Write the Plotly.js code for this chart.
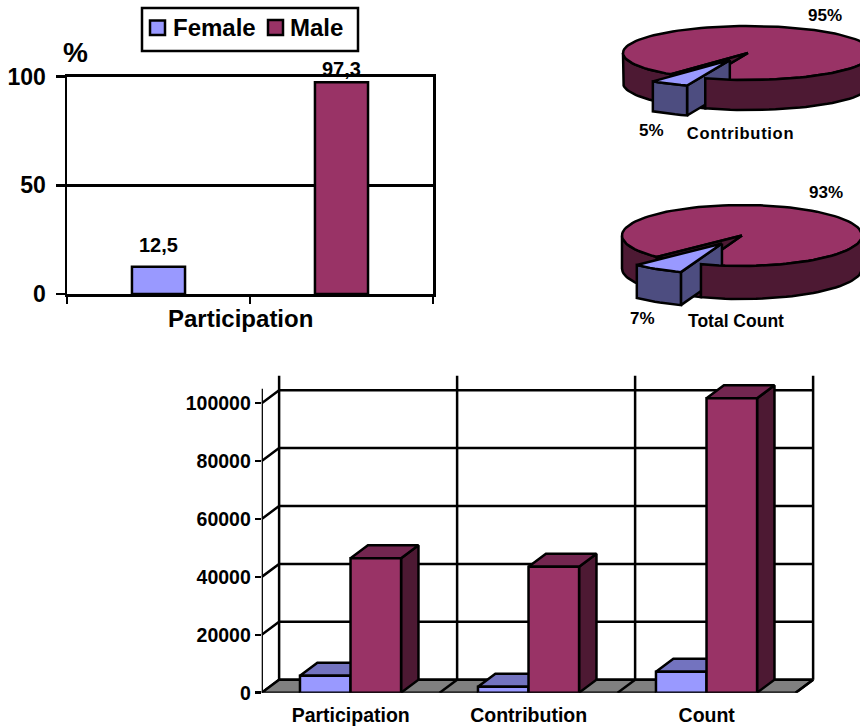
<!DOCTYPE html>
<html>
<head>
<meta charset="utf-8">
<script src="https://cdn.plot.ly/plotly-3.0.1.min.js"></script>
<style>html,body{margin:0;padding:0;background:#fff}#chart{width:860px;height:726px}</style>
</head>
<body>
<div id="chart"></div>
<script>
// Gender breakdown of participation, contribution and record counts
const seriesNames = ['Female', 'Male'];
const participationPct = [12.5, 97.3];
const countCategories = ['Participation', 'Contribution', 'Count'];
const femaleCounts = [5870, 2070, 7250];
const maleCounts = [46420, 43520, 101700];
const contributionShare = [5, 95];
const totalCountShare = [7, 93];
const countTicks = [0, 20000, 40000, 60000, 80000, 100000];
const pctTicks = [0, 50, 100];

const W = 860, H = 726;
const FONT = '"Liberation Sans", Arial, sans-serif';
const INK = '#000000';
const STROKE = 2.5;
const FEMALE = {face: '#9999FF', top: '#7373BF', side: '#4D4D80'};
const MALE = {face: '#993366', top: '#732650', side: '#4D1933'};
const fx = p => p / W;
const fy = p => 1 - p / H;

const traces = [];

function poly(xs, ys, fill, xa, ya) {
  return {type: 'scatter', mode: 'lines', x: xs, y: ys, fill: 'toself', fillcolor: fill,
    line: {color: INK, width: STROKE}, showlegend: false, hoverinfo: 'skip', cliponaxis: false,
    xaxis: xa, yaxis: ya};
}

// Upper chart: percentage participation as two flat bars
const slotPos = [0.5, 1.5];
seriesNames.forEach((name, i) => {
  traces.push({type: 'bar', name, x: [slotPos[i]], y: [participationPct[i]], width: 0.29,
    marker: {color: (i ? MALE : FEMALE).face, line: {color: INK, width: STROKE}},
    showlegend: false, hoverinfo: 'name+y', xaxis: 'x', yaxis: 'y'});
});

// Lower chart: a fake-perspective frame and floor drawn on the value axes
const depthX = 0.0978, depthY = 4490;
const frameMax = 105000;
const gridX = [], gridY = [];
countTicks.forEach(v => {
  gridX.push(0, depthX, 3 + depthX, null);
  gridY.push(v, v + depthY, v + depthY, null);
});
[0, 1, 2, 3].forEach(k => {
  gridX.push(k + depthX, k + depthX, null);
  gridY.push(depthY, frameMax + depthY, null);
});
traces.push({type: 'scatter', mode: 'lines', x: gridX, y: gridY, line: {color: INK, width: STROKE},
  showlegend: false, hoverinfo: 'skip', cliponaxis: false, xaxis: 'x2', yaxis: 'y2'});
traces.push(poly([0, 3, 3 + depthX, depthX, 0], [0, 0, depthY, depthY, 0], '#808080', 'x2', 'y2'));

const floorX = [0, 0, null], floorY = [-1900, frameMax, null];
[1, 2, 3].forEach(k => {
  floorX.push(k, k + depthX, null, k, k, null);
  floorY.push(0, depthY, null, 0, -1900, null);
});
traces.push({type: 'scatter', mode: 'lines', x: floorX, y: floorY, line: {color: INK, width: STROKE},
  showlegend: false, hoverinfo: 'skip', cliponaxis: false, xaxis: 'x2', yaxis: 'y2'});

// Top and side faces of each column; the front faces are real bars on an overlaid pair of axes
const barW = 0.284, barOff = 0.215;
[[femaleCounts, FEMALE, 0], [maleCounts, MALE, 1]].forEach(([vals, pal, s]) => {
  vals.forEach((v, k) => {
    const x0 = k + barOff + s * barW, x1 = x0 + barW;
    traces.push(poly([x1, x1 + depthX, x1 + depthX, x1, x1], [0, depthY, v + depthY, v, 0], pal.side, 'x2', 'y2'));
    traces.push(poly([x0, x1, x1 + depthX, x0 + depthX, x0], [v, v, v + depthY, v + depthY, v], pal.top, 'x2', 'y2'));
  });
  traces.push({type: 'bar', name: seriesNames[s] + ' count',
    x: vals.map((_, k) => k + barOff + s * barW + barW / 2), y: vals, width: barW,
    marker: {color: pal.face, line: {color: INK, width: STROKE}}, showlegend: false,
    hoverinfo: 'y', cliponaxis: false, xaxis: 'x3', yaxis: 'y3'});
});

// Tilted pies: ellipse outlines computed from the shares, angle 0 pointing at the viewer
function tiltedPie(shares, g) {
  const at = (a, cx, cy, depth) => {
    const r = a * Math.PI / 180;
    return [cx - g.rx * Math.sin(r), cy + g.ry * Math.cos(r) + depth];
  };
  const arc = (from, to, cx, cy, depth) => {
    const pts = [], n = Math.max(2, Math.ceil(Math.abs(to - from) / 3));
    for (let i = 0; i <= n; i++) pts.push(at(from + (to - from) * i / n, cx, cy, depth));
    return pts;
  };
  const add = (pts, fill) => traces.push(poly(
    pts.map(p => p[0]).concat(pts[0][0]), pts.map(p => p[1]).concat(pts[0][1]), fill, 'x4', 'y4'));
  const a0 = g.start, a1 = a0 + shares[0] * 3.6;
  const mid = (a0 + a1) / 2 * Math.PI / 180;
  const ox = g.cx - g.rx * g.pull * Math.sin(mid), oy = g.cy + g.ry * g.pull * Math.cos(mid);

  // back-left outer wall
  add(arc(a1, 90, g.cx, g.cy, 0).concat(arc(90, a1, g.cx, g.cy, g.depth)), MALE.side);
  // large slice, top surface
  add([[g.cx, g.cy]].concat(arc(a1, a0 + 360, g.cx, g.cy, 0)), MALE.face);
  // dark interior of the gap the small slice was pulled out of
  add([[g.cx, g.cy]].concat(arc(a0, a1, g.cx, g.cy, 0)), MALE.side);
  add(arc(a0, a1, g.cx, g.cy, 0).concat(arc(a1, a0, g.cx, g.cy, g.depth)), MALE.side);
  // pulled-out slice: cut wall, outer wall, top surface
  const oe = at(a0, ox, oy, 0);
  add([[ox, oy], oe, [oe[0], oe[1] + g.depth], [ox, oy + g.depth]], FEMALE.side);
  add(arc(a0, a1, ox, oy, 0).concat(arc(a1, a0, ox, oy, g.depth)), FEMALE.side);
  add([[ox, oy]].concat(arc(a0, a1, ox, oy, 0)), FEMALE.face);
  // front-right outer wall sits ahead of the pulled-out slice
  add(arc(270, a0 + 360, g.cx, g.cy, 0).concat(arc(a0 + 360, 270, g.cx, g.cy, g.depth)), MALE.side);
}
tiltedPie(contributionShare, {cx: 748, cy: 53, rx: 125, ry: 27, depth: 30, start: 20, pull: 0.3});
tiltedPie(totalCountShare, {cx: 742, cy: 235.5, rx: 120, ry: 30.5, depth: 33, start: 20, pull: 0.31});

const bold = size => ({family: FONT, size, color: INK, weight: 700});
const note = (text, x, y, size, anchor) => ({text, x: fx(x), y: fy(y), xref: 'paper', yref: 'paper',
  showarrow: false, xanchor: anchor || 'center', yanchor: 'middle', font: bold(size)});
const commaLabel = v => String(v).replace('.', ',');

const labelLift = [22, 13];
const annotations = [
  note(seriesNames[0], 171, 28, 24, 'left'),
  note(seriesNames[1], 288, 28, 24, 'left'),
  note('%', 75, 52, 28),
  note('Participation', 240, 318, 24),
  note(contributionShare[1] + '%', 825, 15, 17),
  note(contributionShare[0] + '%', 651, 130, 17),
  note('Contribution', 740, 133, 16.5),
  note(totalCountShare[1] + '%', 826, 193, 17),
  note(totalCountShare[0] + '%', 642, 318, 17),
  note('Total Count', 736, 321, 17.5)
];
participationPct.forEach((v, i) => annotations.push({
  text: commaLabel(v), x: slotPos[i], y: v, xref: 'x', yref: 'y', showarrow: false,
  xanchor: 'center', yanchor: 'middle', yshift: labelLift[i], font: bold(20)}));

// Legend frame and colour keys
const rectShape = (x0, y0, x1, y1, fill) => ({type: 'rect', xref: 'paper', yref: 'paper',
  x0: fx(x0), x1: fx(x1), y0: fy(y0), y1: fy(y1), fillcolor: fill, line: {color: INK, width: STROKE}});
const shapes = [
  rectShape(142, 8, 358, 51, '#FFFFFF'),
  rectShape(150, 20.5, 165, 35, FEMALE.face),
  rectShape(268, 20, 283, 35, MALE.face)
];

// Column chart scale: 0 at 692.7 and 100000 at 403.3 down the page
const lowRangeTop = (692.7 - 374) / 0.002895;
const lowRangeRight = (816 - 261.7) / 178;
const lowX = {domain: [fx(261.7), fx(816)], range: [0, lowRangeRight]};
const lowY = {domain: [fy(692.7), fy(374)], range: [0, lowRangeTop]};

const layout = {
  width: W, height: H, autosize: false, showlegend: false,
  margin: {l: 0, r: 0, t: 0, b: 0, pad: 0},
  paper_bgcolor: '#fff', plot_bgcolor: 'rgba(0,0,0,0)',
  barmode: 'overlay', annotations, shapes,
  xaxis: {domain: [fx(67), fx(433)], range: [0, 2], tickvals: [0, 1, 2], ticktext: ['', '', ''],
    ticks: 'outside', ticklen: 7, tickwidth: STROKE, tickcolor: INK, showline: true, linecolor: INK,
    linewidth: STROKE, mirror: true, showgrid: false, zeroline: false, anchor: 'y', fixedrange: true},
  yaxis: {domain: [fy(294), fy(76.5)], range: [0, 100], tickvals: pctTicks, ticks: 'outside',
    ticklen: 9, tickwidth: STROKE, tickcolor: INK, ticklabelstandoff: 5, tickfont: bold(23), showline: true,
    linecolor: INK, linewidth: STROKE, mirror: true, showgrid: true, gridcolor: INK, gridwidth: STROKE,
    zeroline: false, anchor: 'x', fixedrange: true},
  xaxis2: Object.assign({}, lowX, {tickvals: [0.5, 1.5, 2.5], ticktext: countCategories,
    ticks: 'outside', ticklen: 5, tickcolor: 'rgba(0,0,0,0)', tickfont: bold(19.5),
    showline: false, showgrid: false, zeroline: false, anchor: 'y2', fixedrange: true}),
  yaxis2: Object.assign({}, lowY, {tickvals: countTicks, tickformat: 'd', ticks: 'outside', ticklen: 6,
    tickwidth: STROKE, tickcolor: INK, tickfont: bold(19.5), showline: false, showgrid: false,
    zeroline: false, anchor: 'x2', fixedrange: true}),
  xaxis3: Object.assign({}, lowX, {visible: false, overlaying: 'x2', anchor: 'y3', fixedrange: true}),
  yaxis3: Object.assign({}, lowY, {visible: false, overlaying: 'y2', anchor: 'x3', fixedrange: true}),
  xaxis4: {domain: [fx(610), 1], range: [610, 860], visible: false, anchor: 'y4', fixedrange: true},
  yaxis4: {domain: [fy(340), 1], range: [340, 0], visible: false, anchor: 'x4', fixedrange: true}
};

Plotly.newPlot('chart', traces, layout, {displayModeBar: false, staticPlot: true}).then(() => {
  // The slice caption is set with slightly open tracking
  document.querySelectorAll('.annotation-text').forEach(t => {
    if (t.textContent === 'Contribution') t.style.letterSpacing = '0.7px';
  });
});
</script>
</body>
</html>
